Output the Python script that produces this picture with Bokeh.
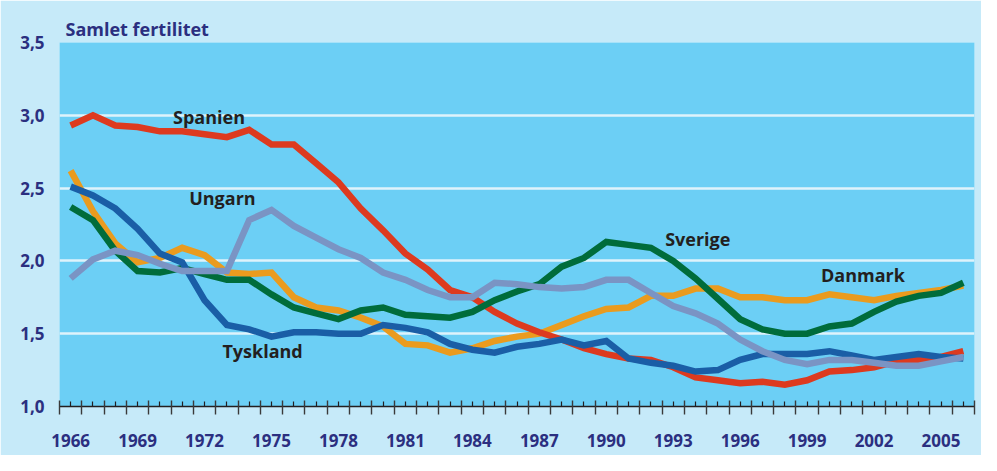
from bokeh.plotting import figure
from bokeh.models import Range1d, FixedTicker, Label, ColumnDataSource
from bokeh.embed import file_html
from bokeh.resources import INLINE

years = list(range(1966, 2007))

spanien = [2.93, 3.00, 2.93, 2.92, 2.89, 2.89, 2.87, 2.85, 2.90, 2.80, 2.80, 2.67, 2.54, 2.36,
           2.21, 2.05, 1.94, 1.80, 1.75, 1.65, 1.57, 1.51, 1.46, 1.40, 1.36, 1.33, 1.32, 1.27,
           1.20, 1.18, 1.16, 1.17, 1.15, 1.18, 1.24, 1.25, 1.27, 1.31, 1.32, 1.34, 1.38]
danmark = [2.62, 2.34, 2.12, 1.99, 2.02, 2.09, 2.04, 1.92, 1.91, 1.92, 1.75, 1.68, 1.66, 1.61,
           1.55, 1.43, 1.42, 1.37, 1.40, 1.45, 1.48, 1.50, 1.56, 1.62, 1.67, 1.68, 1.76, 1.76,
           1.81, 1.81, 1.75, 1.75, 1.73, 1.73, 1.77, 1.75, 1.73, 1.76, 1.78, 1.80, 1.83]
sverige = [2.37, 2.28, 2.07, 1.93, 1.92, 1.95, 1.91, 1.87, 1.87, 1.77, 1.68, 1.64, 1.60, 1.66,
           1.68, 1.63, 1.62, 1.61, 1.65, 1.73, 1.79, 1.84, 1.96, 2.02, 2.13, 2.11, 2.09, 2.00,
           1.88, 1.74, 1.60, 1.53, 1.50, 1.50, 1.55, 1.57, 1.65, 1.72, 1.76, 1.78, 1.85]
tyskland = [2.51, 2.45, 2.36, 2.22, 2.05, 1.99, 1.73, 1.56, 1.53, 1.48, 1.51, 1.51, 1.50, 1.50,
            1.56, 1.54, 1.51, 1.43, 1.39, 1.37, 1.41, 1.43, 1.46, 1.42, 1.45, 1.33, 1.30, 1.28,
            1.24, 1.25, 1.32, 1.36, 1.36, 1.36, 1.38, 1.35, 1.32, 1.34, 1.36, 1.34, 1.33]
ungarn = [1.88, 2.01, 2.07, 2.04, 1.98, 1.93, 1.93, 1.93, 2.28, 2.35, 2.24, 2.16, 2.08, 2.02,
          1.92, 1.87, 1.80, 1.75, 1.75, 1.85, 1.84, 1.82, 1.81, 1.82, 1.87, 1.87, 1.78, 1.69,
          1.64, 1.57, 1.46, 1.38, 1.32, 1.29, 1.32, 1.32, 1.30, 1.28, 1.28, 1.31, 1.34]

y_ticks = [1.0, 1.5, 2.0, 2.5, 3.0, 3.5]
y_tick_labels = ["1,0", "1,5", "2,0", "2,5", "3,0", "3,5"]
x_label_years = list(range(1966, 2007, 3))

# series drawing order (bottom to top)
series = [
    ("Danmark", danmark, "#ea9b1e"),
    ("Spanien", spanien, "#dd3a1f"),
    ("Sverige", sverige, "#006c3b"),
    ("Tyskland", tyskland, "#1a5ea6"),
    ("Ungarn", ungarn, "#7a94c4"),
]

# label anchor points (data units)
label_names = ["Spanien", "Ungarn", "Tyskland", "Sverige", "Danmark"]
label_x = [1972.2, 1972.8, 1974.6, 1994.1, 2001.5]
label_y = [2.99, 2.43, 1.38, 2.15, 1.905]

navy = "#2b2f80"
dark = "#231f20"

p = figure(width=981, height=455, output_backend="svg", toolbar_location=None,
           x_range=Range1d(1965.5, 2006.5), y_range=Range1d(1.0, 3.5),
           min_border_left=59, min_border_right=7, min_border_top=42, min_border_bottom=49,
           title="Samlet fertilitet")

p.title.text_font = "Open Sans"
p.title.text_font_style = "bold"
p.title.text_font_size = "18px"
p.title.text_color = navy
p.title.align = "left"
p.title.offset = 6
p.title.standoff = 3

p.background_fill_color = "#6ccff5"
p.border_fill_color = "#c6eaf9"
p.outline_line_color = None

for name, vals, col in series:
    src = ColumnDataSource(dict(x=years, y=vals))
    p.line("x", "y", source=src, line_color=col, line_width=6.5, line_join="miter")

# y axis
p.yaxis.ticker = FixedTicker(ticks=y_ticks)
p.yaxis.major_label_overrides = {t: l for t, l in zip(y_ticks, y_tick_labels)}
p.yaxis.axis_line_color = None
p.yaxis.major_tick_line_color = None
p.yaxis.minor_tick_line_color = None
p.yaxis.major_label_text_font = "Open Sans"
p.yaxis.major_label_text_font_style = "bold"
p.yaxis.major_label_text_font_size = "17px"
p.yaxis.major_label_text_color = navy
p.yaxis.major_label_standoff = 9

# x axis
p.xaxis.ticker = FixedTicker(ticks=years, minor_ticks=[y - 0.5 for y in years] + [years[-1] + 0.5])
p.xaxis.major_label_overrides = {y: (str(y) if y in x_label_years else "") for y in years}
p.xaxis.axis_line_color = dark
p.xaxis.axis_line_width = 1.5
p.xaxis.major_tick_line_color = dark
p.xaxis.major_tick_line_width = 1.2
p.xaxis.major_tick_in = 5
p.xaxis.major_tick_out = 0
p.xaxis.minor_tick_line_color = "#3a3a3a"
p.xaxis.minor_tick_line_width = 1.4
p.xaxis.minor_tick_in = 6
p.xaxis.minor_tick_out = 8
p.xaxis.major_label_text_font = "Open Sans"
p.xaxis.major_label_text_font_style = "bold"
p.xaxis.major_label_text_font_size = "17px"
p.xaxis.major_label_text_color = navy
p.xaxis.major_label_standoff = 19

# grid
p.xgrid.grid_line_color = None
p.ygrid.ticker = FixedTicker(ticks=y_ticks[1:-1])
p.ygrid.grid_line_color = "#def3fb"
p.ygrid.grid_line_width = 2.5

for name, lx, ly in zip(label_names, label_x, label_y):
    p.add_layout(Label(x=lx, y=ly, text=name, text_font="Open Sans", text_font_style="bold",
                       text_font_size="18px", text_color=dark,
                       text_align="center", text_baseline="middle"))

open("out.html", "w").write(file_html(p, INLINE))
